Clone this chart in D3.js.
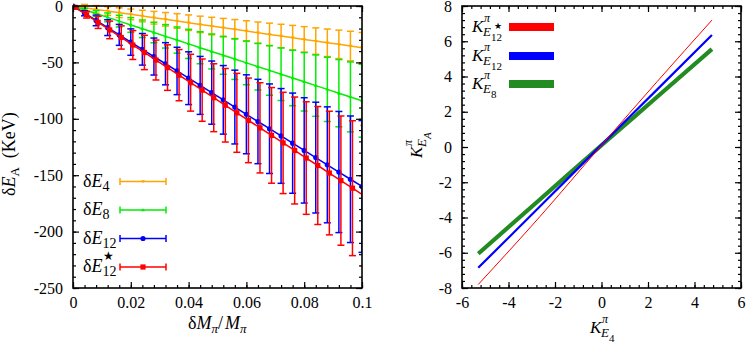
<!DOCTYPE html>
<html>
<head>
<meta charset="utf-8">
<script src="https://cdn.jsdelivr.net/npm/d3@7"></script>
<style>
  body { margin: 0; background: #fff; }
  svg, svg text { font-family: "Liberation Serif", "Times New Roman", "DejaVu Serif", serif; }
  .ax path, .ax line { stroke: #000; stroke-width: 1.2; }
  .ax text { font-size: 16px; fill: #000; }
</style>
</head>
<body>
<svg id="chart" width="747" height="342" font-family="Liberation Serif, serif"></svg>
<script>
`use strict`;

// left panel: dM/M
const xsL = [0, 0.004, 0.008, 0.012, 0.016, 0.02, 0.024, 0.028, 0.032, 0.036, 0.04, 0.044, 0.048,
  0.052, 0.056, 0.06, 0.064, 0.068, 0.072, 0.076, 0.08, 0.084, 0.088, 0.092, 0.096, 0.1];

const e4Val = [0, -1.5, -3.0, -4.4, -5.9, -7.4, -8.9, -10.4, -11.8, -13.3, -14.8, -16.3, -17.8,
  -19.2, -20.7, -22.2, -23.7, -25.2, -26.6, -28.1, -29.6, -31.1, -32.6, -34.0, -35.5, -37.0];
const e4Err = [0, 2.9, 3.4, 3.8, 4.3, 4.7, 5.1, 5.6, 6.0, 6.5, 6.9, 7.3, 7.8,
  8.2, 8.7, 9.1, 9.5, 10.0, 10.4, 10.9, 11.3, 11.7, 12.2, 12.6, 13.1, 13.5];

const e8Val = [0, -3.4, -6.7, -10.1, -13.4, -16.8, -20.2, -23.5, -26.9, -30.2, -33.6, -37.0, -40.3,
  -43.7, -47.0, -50.4, -53.8, -57.1, -60.5, -63.8, -67.2, -70.6, -73.9, -77.3, -80.6, -84.0];
const e8Err = [0, 1.3, 2.6, 3.9, 5.2, 6.5, 7.8, 9.1, 10.4, 11.6, 12.9, 14.2, 15.5,
  16.8, 18.1, 19.4, 20.7, 22.0, 23.3, 24.6, 25.9, 27.2, 28.5, 29.8, 31.0, 32.3];

const e12Val = [0, -6.4, -12.8, -19.2, -25.6, -32, -38.4, -44.8, -51.2, -57.6, -64, -70.4, -76.8,
  -83.2, -89.6, -96, -102.4, -108.8, -115.2, -121.6, -128, -134.4, -140.8, -147.2, -153.6, -160];
const e12Err = [0, 2.3, 4.7, 7.0, 9.3, 11.7, 14.0, 16.4, 18.7, 21.0, 23.4, 25.7, 28.0,
  30.4, 32.7, 35.0, 37.4, 39.7, 42.0, 44.4, 46.7, 49.1, 51.4, 53.7, 56.1, 58.4];

const xsStar = [0.0007, 0.0047, 0.0087, 0.0127, 0.0167, 0.0207, 0.0247, 0.0287, 0.0327, 0.0367,
  0.0407, 0.0447, 0.0487, 0.0527, 0.0567, 0.0607, 0.0647, 0.0687, 0.0727, 0.0767, 0.0807,
  0.0847, 0.0887, 0.0927, 0.0967, 0.1007];
const starVal = [-1.2, -7.8, -14.5, -21.2, -27.9, -34.6, -41.2, -47.9, -54.6, -61.3,
  -68.0, -74.6, -81.3, -88.0, -94.7, -101.4, -108.0, -114.7, -121.4, -128.1, -134.8,
  -141.4, -148.1, -154.8, -161.5, -168.2];
const starErr = [0.4, 2.9, 5.4, 7.8, 10.3, 12.8, 15.2, 17.7, 20.2, 22.7,
  25.2, 27.6, 30.1, 32.6, 35.0, 37.5, 40.0, 42.4, 44.9, 47.4, 49.9,
  52.3, 54.8, 57.3, 59.8, 62.2];

const xTicksL = [0, 0.02, 0.04, 0.06, 0.08, 0.1];
const yTicksL = [-250, -200, -150, -100, -50, 0];

// right panel: K correlation
const kE4 = [-5.3, -2.65, 0, 2.4, 4.75];
const kStar = [-7.8, -3.95, 0.1, 3.72, 7.2];
const k12 = [-6.85, -3.38, 0.12, 3.27, 6.36];
const k8 = [-6.05, -2.98, 0.1, 2.85, 5.55];

const xTicksR = [-6, -4, -2, 0, 2, 4, 6];
const yTicksR = [-8, -6, -4, -2, 0, 2, 4, 6, 8];

const FONT = `"Liberation Serif", "Times New Roman", serif`;

const svg = d3.select(`#chart`);

let axes = (g, xS, yS, xT, yT, xMinor, yMinor) => {

  let [x0, x1] = xS.range(), [y1, y0] = yS.range();

  let fmt = d => `${d}`;

  let put = (ax, tr) => g.append(`g`).attr(`class`, `ax`).attr(`transform`, tr).call(ax)
    .call(s => s.select(`.domain`).remove())
    .call(s => s.selectAll(`text`).attr(`font-family`, FONT).style(`font-family`, FONT));

  put(d3.axisBottom(xS).tickValues(xMinor).tickSize(-3).tickFormat(``), `translate(0,${y1})`);
  put(d3.axisTop(xS).tickValues(xMinor).tickSize(-3).tickFormat(``), `translate(0,${y0})`);
  put(d3.axisLeft(yS).tickValues(yMinor).tickSize(-3).tickFormat(``), `translate(${x0},0)`);
  put(d3.axisRight(yS).tickValues(yMinor).tickSize(-3).tickFormat(``), `translate(${x1},0)`);

  put(d3.axisBottom(xS).tickValues(xT).tickSize(-6).tickPadding(9).tickFormat(fmt), `translate(0,${y1})`);
  put(d3.axisTop(xS).tickValues(xT).tickSize(-6).tickFormat(``), `translate(0,${y0})`);
  put(d3.axisLeft(yS).tickValues(yT).tickSize(-6).tickPadding(10).tickFormat(fmt), `translate(${x0},0)`);
  put(d3.axisRight(yS).tickValues(yT).tickSize(-6).tickFormat(``), `translate(${x1},0)`);

  g.append(`rect`)
    .attr(`x`, x0).attr(`y`, y0)
    .attr(`width`, x1 - x0).attr(`height`, y1 - y0)
    .attr(`fill`, `none`).attr(`stroke`, `#000`).attr(`stroke-width`, 1.6);
}

// every text node made here goes through txt()
let txt = (g, x, y, size) => g.append(`text`).attr(`x`, x).attr(`y`, y)
  .style(`font-family`, FONT).style(`font-size`, `${size}px`);

// ---------- left panel ----------
const xL = d3.scaleLinear().domain([0, 0.1]).range([73, 362]);
const yL = d3.scaleLinear().domain([-250, 0]).range([288, 6]);

const gL = svg.append(`g`);

svg.append(`clipPath`).attr(`id`, `clipL`)
  .append(`rect`).attr(`x`, 73).attr(`y`, 0).attr(`width`, 289).attr(`height`, 288);

const seriesL = [
  {name: `4`, xs: xsL, v: e4Val, e: e4Err, c: `#ffa500`, m: `down`},
  {name: `8`, xs: xsL, v: e8Val, e: e8Err, c: `#00ee00`, m: `up`},
  {name: `12`, xs: xsL, v: e12Val, e: e12Err, c: `#0000ff`, m: `circle`},
  {name: `12s`, xs: xsStar, v: starVal, e: starErr, c: `#ff0000`, m: `square`}
];

let marker = (g, type, c, cx, cy) => {
  if (type === `circle`) g.append(`circle`).attr(`cx`, cx).attr(`cy`, cy).attr(`r`, 2.6).attr(`fill`, c);
  else if (type === `square`) g.append(`rect`).attr(`x`, cx - 2.6).attr(`y`, cy - 2.6).attr(`width`, 5.2).attr(`height`, 5.2).attr(`fill`, c);
  else {
    let s = type === `up` ? -1 : 1;
    g.append(`path`).attr(`d`, `M${cx - 2},${cy - s * 1.2}L${cx + 2},${cy - s * 1.2}L${cx},${cy + s * 1.8}Z`).attr(`fill`, c);
  }
}

const plotL = gL.append(`g`).attr(`clip-path`, `url(#clipL)`);

seriesL.forEach(S => {

  let pts = S.xs.map((x, i) => ({x: x, v: S.v[i], e: S.e[i]}));

  let g = plotL.append(`g`);

  let bars = g.selectAll(`g.eb`).data(pts).enter().append(`g`).attr(`class`, `eb`)
    .attr(`stroke`, S.c).attr(`stroke-width`, 1.5);

  bars.append(`line`)
    .attr(`x1`, d => xL(d.x)).attr(`x2`, d => xL(d.x))
    .attr(`y1`, d => yL(d.v + d.e)).attr(`y2`, d => yL(d.v - d.e));

  [1, -1].forEach(k => {
    bars.append(`line`)
      .attr(`x1`, d => xL(d.x) - 3.5).attr(`x2`, d => xL(d.x) + 3.5)
      .attr(`y1`, d => yL(d.v + k * d.e)).attr(`y2`, d => yL(d.v + k * d.e));
  });

  g.append(`path`).datum(pts)
    .attr(`d`, d3.line().x(d => xL(d.x)).y(d => yL(d.v)))
    .attr(`fill`, `none`).attr(`stroke`, S.c).attr(`stroke-width`, 1.5);

  pts.forEach(d => marker(g, S.m, S.c, xL(d.x), yL(d.v)));
});

axes(gL, xL, yL, xTicksL, yTicksL, d3.range(0, 0.1001, 0.004), d3.range(-250, 0.1, 10));

// left legend
const legY = [181.5, 210, 238.5, 267];

seriesL.forEach((S, i) => {

  let cy = legY[i];

  let g = gL.append(`g`).attr(`stroke`, S.c).attr(`stroke-width`, 1.5);

  g.append(`line`).attr(`x1`, 120).attr(`x2`, 166).attr(`y1`, cy).attr(`y2`, cy);
  g.append(`line`).attr(`x1`, 120).attr(`x2`, 120).attr(`y1`, cy - 3.5).attr(`y2`, cy + 3.5);
  g.append(`line`).attr(`x1`, 166).attr(`x2`, 166).attr(`y1`, cy - 3.5).attr(`y2`, cy + 3.5);

  marker(gL, S.m, S.c, 143, cy);

  let t = txt(gL, 83, cy + 5, 18);
  t.append(`tspan`).text(`δ`);
  t.append(`tspan`).style(`font-style`, `italic`).text(`E`);
  t.append(`tspan`).attr(`dy`, 4).style(`font-size`, `14px`).text(S.name === `12s` ? `12` : S.name);

  if (S.name === `12s`) txt(gL, 103, cy - 7, 12).text(`★`);
});

// left axis titles
const yTitleL = txt(svg, 0, 0, 18).attr(`transform`, `translate(15,196) rotate(-90)`);
yTitleL.append(`tspan`).text(`δ`);
yTitleL.append(`tspan`).style(`font-style`, `italic`).text(`E`);
yTitleL.append(`tspan`).attr(`dy`, 4).style(`font-size`, `13px`).text(`A`);
yTitleL.append(`tspan`).attr(`dy`, -4).text(`\u00a0\u00a0(KeV)`);

const xTitleL = txt(svg, 188, 329, 18);
xTitleL.append(`tspan`).text(`δ`);
xTitleL.append(`tspan`).style(`font-style`, `italic`).text(`M`);
xTitleL.append(`tspan`).attr(`dy`, 4).style(`font-size`, `13px`).style(`font-style`, `italic`).text(`π`);
xTitleL.append(`tspan`).attr(`dy`, -4).text(`/`);
xTitleL.append(`tspan`).attr(`dx`, 2).style(`font-style`, `italic`).text(`M`);
xTitleL.append(`tspan`).attr(`dy`, 4).style(`font-size`, `13px`).style(`font-style`, `italic`).text(`π`);

// ---------- right panel ----------
const xR = d3.scaleLinear().domain([-6, 6]).range([462, 741]);
const yR = d3.scaleLinear().domain([-8, 8]).range([288, 6]);

const gR = svg.append(`g`);

const seriesR = [
  {v: k8, c: `#228b22`, w: 4.2, sub: `8`, star: false, ly: 84},
  {v: k12, c: `#0000ff`, w: 2.2, sub: `12`, star: false, ly: 56},
  {v: kStar, c: `#ff0000`, w: 1, sub: `12`, star: true, ly: 27}
];

seriesR.forEach(S => {

  let pts = kE4.map((x, i) => [x, S.v[i]]);

  gR.append(`path`).datum(pts)
    .attr(`d`, d3.line().x(d => xR(d[0])).y(d => yR(d[1])).curve(d3.curveMonotoneX))
    .attr(`fill`, `none`).attr(`stroke`, S.c).attr(`stroke-width`, S.w);
});

axes(gR, xR, yR, xTicksR, yTicksR, d3.range(-6, 6.01, 0.4), d3.range(-8, 8.01, 0.4));

let kLabel = (g, x, y, sub, subsub, star) => {

  txt(g, x, y, 17).style(`font-style`, `italic`).text(`K`);
  txt(g, x + 12, y - 10, 12).style(`font-style`, `italic`).text(`π`);
  txt(g, x + 11, y + 4, 13).style(`font-style`, `italic`).text(sub);
  if (subsub) txt(g, x + 19, y + 9, 11).text(subsub);
  if (star) txt(g, x + 22, y - 3, 9).text(`★`);
}

seriesR.forEach(S => {

  gR.append(`rect`)
    .attr(`x`, 509).attr(`y`, S.ly - 4)
    .attr(`width`, 45).attr(`height`, 8)
    .attr(`fill`, S.c);

  kLabel(gR, 472, S.ly + 5, `E`, S.sub, S.star);
});

kLabel(svg, 590, 333, `E`, `4`, false);

const yTitleR = svg.append(`g`).attr(`transform`, `translate(422,158) rotate(-90)`);
kLabel(yTitleR, 0, 0, `E`, ``, false);
txt(yTitleR, 19, 9, 11).style(`font-style`, `italic`).text(`A`);

</script>
</body>
</html>
